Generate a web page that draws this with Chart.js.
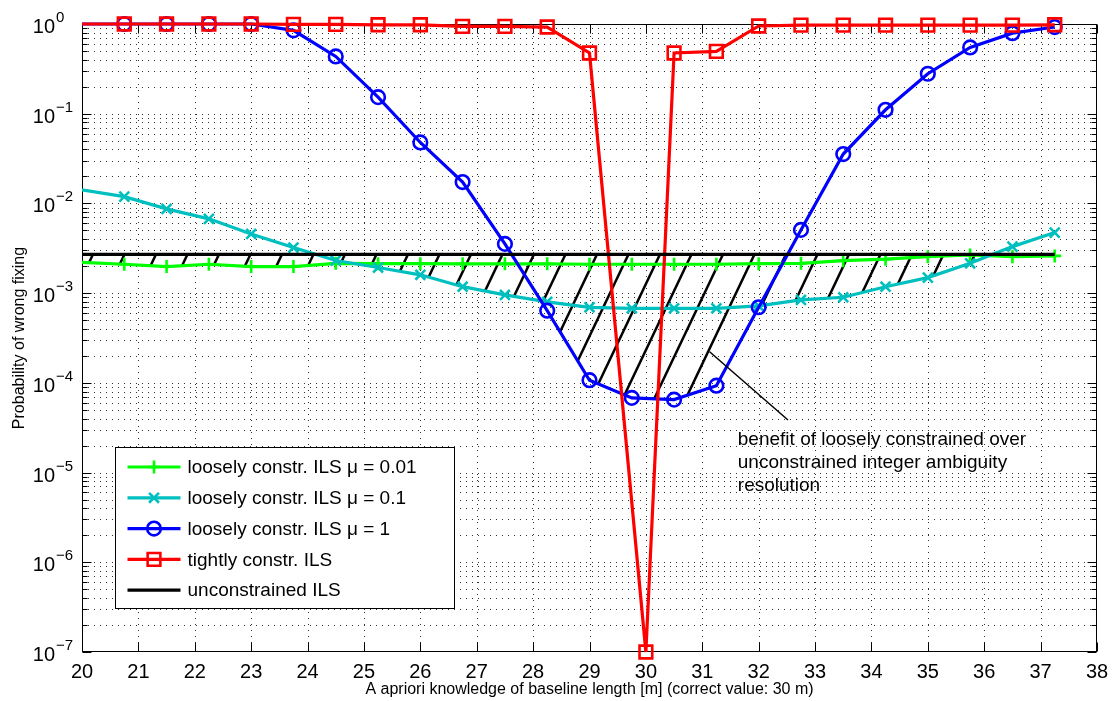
<!DOCTYPE html>
<html>
<head>
<meta charset="utf-8">
<title>Probability of wrong fixing</title>
<script src="https://cdn.jsdelivr.net/npm/chart.js@4.4.1/dist/chart.umd.min.js"></script>
<style>
  html, body { margin: 0; padding: 0; background: #fff; }
  #chart-container { width: 1112px; height: 701px; }
</style>
</head>
<body>
<div id="chart-container"><canvas id="grafica" width="1112" height="701"></canvas></div>
<script>
// a priori baseline length [m] for the loosely constrained runs
// (first sample lies left of the axis, the line is clipped there)
const baseLengths = [19.25, 20.75, 21.5, 22.25, 23, 23.75, 24.5, 25.25, 26, 26.75, 27.5, 28.25,
                     29, 29.75, 30.5, 31.25, 32, 32.75, 33.5, 34.25, 35, 35.75, 36.5, 37.25];
const loose001 = [2.3e-3, 2.1e-3, 1.98e-3, 2.1e-3, 1.98e-3, 1.98e-3, 2.15e-3, 2.13e-3, 2.13e-3, 2.12e-3, 2.12e-3, 2.12e-3,
                  2.1e-3, 2.1e-3, 2.1e-3, 2.1e-3, 2.13e-3, 2.15e-3, 2.3e-3, 2.39e-3, 2.55e-3, 2.67e-3, 2.55e-3, 2.6e-3];
const loose01 = [0.0168, 0.0119, 0.0087, 0.00673, 0.00457, 0.00322, 0.00231, 0.00193, 0.0016, 0.00118, 0.000955, 0.0008,
                 0.000695, 0.000678, 0.000678, 0.000678, 0.00072, 0.00084, 0.0009, 0.00118, 0.00149, 0.00215, 0.0033, 0.00473];
const loose1 = [1, 1, 1, 1, 1, 0.85, 0.435, 0.153, 0.0478, 0.0173, 0.00354, 0.000638,
                0.000107, 0.000068, 0.000065, 0.000093, 0.000696, 0.00507, 0.0355, 0.1106, 0.279, 0.548, 0.79, 0.925];

// tightly constrained run also has the sample at the true length (30 m)
const tightLengths = [19.25, 20.75, 21.5, 22.25, 23, 23.75, 24.5, 25.25, 26, 26.75, 27.5, 28.25,
                      29, 30, 30.5, 31.25, 32, 32.75, 33.5, 34.25, 35, 35.75, 36.5, 37.25];
const tight = [1, 1, 1, 1, 1, 0.99, 0.99, 0.98, 0.98, 0.94, 0.94, 0.925,
               0.475, 1e-7, 0.475, 0.495, 0.95, 0.97, 0.97, 0.97, 0.97, 0.97, 0.97, 0.98];

const unconstrLengths = [19.25, 37.25];
const unconstr = [2.71e-3, 2.71e-3];

const seriesNames = ['loosely constr. ILS \u03bc = 0.01', 'loosely constr. ILS \u03bc = 0.1',
                     'loosely constr. ILS \u03bc = 1', 'tightly constr. ILS', 'unconstrained ILS'];
const yExponents = [0, -1, -2, -3, -4, -5, -6, -7];

const noteLines = ['benefit of loosely constrained over', 'unconstrained integer ambiguity', 'resolution'];
const notePointer = { x: [31.13, 32.52], y: [2.22e-4, 3.85e-5] };
const noteAt = { x: 31.63, y: 2.3e-5 };

const FONT = '"Liberation Sans", Arial, Helvetica, sans-serif';

const toPoints = (xs, ys) => xs.map((x, i) => ({ x: x, y: ys[i] }));

function pixelPath(chart, xs, ys) {
    const sx = chart.scales.x, sy = chart.scales.y;
    return xs.map((x, i) => ({ px: sx.getPixelForValue(x), py: sy.getPixelForValue(ys[i]) }));
}

function yAt(path, px) {
    for (let i = 1; i < path.length; i++) {
        const a = path[i - 1], b = path[i];
        if (px >= a.px && px <= b.px) {
            return a.py + (px - a.px) / (b.px - a.px) * (b.py - a.py);
        }
    }
    return null;
}

// dotted grid, hatched benefit area, axes box with inward ticks
const frame = {
    id: 'frame',
    beforeDatasetsDraw(chart) {
        const { ctx, chartArea: a, scales: { x, y } } = chart;
        ctx.save();

        ctx.strokeStyle = '#333';
        ctx.lineWidth = 1;
        ctx.setLineDash([1, 5]);
        x.ticks.forEach(t => {
            const px = Math.round(x.getPixelForValue(t.value)) + 0.5;
            if (px <= a.left + 1 || px >= a.right - 1) return;
            ctx.beginPath(); ctx.moveTo(px, a.top); ctx.lineTo(px, a.bottom); ctx.stroke();
        });
        y.ticks.forEach(t => {
            const py = Math.round(y.getPixelForValue(t.value)) + 0.5;
            if (py <= a.top + 1 || py >= a.bottom - 1) return;
            ctx.beginPath(); ctx.moveTo(a.left, py); ctx.lineTo(a.right, py); ctx.stroke();
        });
        ctx.setLineDash([]);

        // hatch where any loosely constrained curve is below the unconstrained one
        const ref = pixelPath(chart, unconstrLengths, unconstr);
        const curves = [pixelPath(chart, baseLengths, loose001),
                        pixelPath(chart, baseLengths, loose01),
                        pixelPath(chart, baseLengths, loose1)];
        const x0 = Math.max(a.left, ref[0].px), x1 = Math.min(a.right, ref[ref.length - 1].px);
        const top = [], bottom = [];
        for (let px = x0; px <= x1; px += 1) {
            const yRef = yAt(ref, px);
            let yLow = yRef;
            curves.forEach(c => {
                const v = yAt(c, px);
                if (v !== null && v > yLow) yLow = v;
            });
            top.push([px, yRef]);
            bottom.push([px, yLow]);
        }
        ctx.save();
        ctx.beginPath();
        top.forEach(([px, py], i) => i ? ctx.lineTo(px, py) : ctx.moveTo(px, py));
        for (let i = bottom.length - 1; i >= 0; i--) ctx.lineTo(bottom[i][0], bottom[i][1]);
        ctx.closePath();
        ctx.clip();
        ctx.strokeStyle = '#000';
        ctx.lineWidth = 2.5;
        const slope = 2.1;
        const yc = ref[0].py;
        for (let xc = a.left + 11; xc < a.right + 400; xc += 31.5) {
            ctx.beginPath();
            ctx.moveTo(xc + (yc - a.top) / slope, a.top);
            ctx.lineTo(xc - (a.bottom - yc) / slope, a.bottom);
            ctx.stroke();
        }
        ctx.restore();

        // box and ticks
        ctx.strokeStyle = '#000';
        ctx.lineWidth = 1;
        const L = Math.round(a.left) + 0.5, R = Math.round(a.right) - 0.5;
        const T = Math.round(a.top) + 0.5, B = Math.round(a.bottom) - 0.5;
        ctx.strokeRect(L, T, R - L, B - T);
        ctx.beginPath();
        x.ticks.forEach(t => {
            const px = Math.round(x.getPixelForValue(t.value)) + 0.5;
            ctx.moveTo(px, B); ctx.lineTo(px, B - 9);
            ctx.moveTo(px, T); ctx.lineTo(px, T + 9);
        });
        y.ticks.forEach(t => {
            const py = Math.round(y.getPixelForValue(t.value)) + 0.5;
            const len = t.major ? 9 : 5;
            ctx.moveTo(L, py); ctx.lineTo(L + len, py);
            ctx.moveTo(R, py); ctx.lineTo(R - len, py);
        });
        ctx.stroke();
        ctx.restore();
    },
    afterDraw(chart) {
        // y tick labels as powers of ten
        const { ctx, chartArea: a, scales: { y } } = chart;
        ctx.save();
        ctx.fillStyle = '#000';
        ctx.textBaseline = 'alphabetic';
        yExponents.forEach(e => {
            const py = y.getPixelForValue(Math.pow(10, e));
            const sup = (e < 0 ? '\u2212' : '') + Math.abs(e);
            ctx.font = '20px ' + FONT;
            ctx.textAlign = 'right';
            ctx.fillText('10', a.left - 27, py + 9);
            ctx.font = '15px ' + FONT;
            ctx.textAlign = 'left';
            ctx.fillText(sup, a.left - 26, py - 2);
        });
        ctx.restore();
    }
};

// annotation with pointer, and the boxed legend in the lower left
const overlay = {
    id: 'overlay',
    afterDatasetsDraw(chart) {
        const { ctx, chartArea: a, scales: { x, y } } = chart;
        ctx.save();

        ctx.strokeStyle = '#000';
        ctx.lineWidth = 1.5;
        ctx.beginPath();
        ctx.moveTo(x.getPixelForValue(notePointer.x[0]), y.getPixelForValue(notePointer.y[0]));
        ctx.lineTo(x.getPixelForValue(notePointer.x[1]), y.getPixelForValue(notePointer.y[1]));
        ctx.stroke();

        ctx.fillStyle = '#000';
        ctx.font = '19px ' + FONT;
        ctx.textAlign = 'left';
        ctx.textBaseline = 'middle';
        const nx = x.getPixelForValue(noteAt.x), ny = y.getPixelForValue(noteAt.y);
        noteLines.forEach((s, i) => ctx.fillText(s, nx, ny + i * 23));

        // legend
        const left = Math.round(a.left + 33) + 0.5;
        const bottom = Math.round(a.bottom - 44) + 0.5;
        const w = 339, h = 161;
        ctx.fillStyle = '#fff';
        ctx.fillRect(left, bottom - h, w, h);
        ctx.strokeStyle = '#000';
        ctx.lineWidth = 1;
        ctx.strokeRect(left, bottom - h, w, h);
        const legendOrder = [4, 3, 2, 1, 0];
        legendOrder.forEach((di, i) => {
            const ds = chart.data.datasets[di];
            const ry = bottom - h + 19.5 + i * 30.8;
            ctx.strokeStyle = ds.borderColor;
            ctx.lineWidth = ds.borderWidth;
            ctx.beginPath();
            ctx.moveTo(left + 12, ry);
            ctx.lineTo(left + 65, ry);
            ctx.stroke();
            if (ds.pointRadius > 0) {
                ctx.fillStyle = 'rgba(0,0,0,0)';
                ctx.lineWidth = ds.pointBorderWidth;
                Chart.helpers.drawPoint(ctx, {
                    pointStyle: ds.pointStyle, radius: ds.pointRadius,
                    rotation: 0, borderWidth: ds.pointBorderWidth
                }, left + 38.5, ry);
            }
            ctx.fillStyle = '#000';
            ctx.font = '19px ' + FONT;
            ctx.fillText(ds.label, left + 72, ry + 1);
        });
        ctx.restore();
    }
};

const lineStyle = (color, width) => ({
    borderColor: color, borderWidth: width,
    pointBorderColor: color, pointBackgroundColor: 'rgba(0,0,0,0)',
    pointBorderWidth: 2.6, tension: 0,
    clip: { left: 0, top: 12, right: 12, bottom: 12 }
});

new Chart(document.getElementById('grafica'), {
    type: 'line',
    data: {
        datasets: [
            Object.assign({ label: seriesNames[4], data: toPoints(unconstrLengths, unconstr),
                            pointRadius: 0, order: 1 }, lineStyle('#000000', 3.2)),
            Object.assign({ label: seriesNames[3], data: toPoints(tightLengths, tight),
                            pointStyle: 'rect', pointRadius: 9, order: 2 }, lineStyle('#ff0000', 3.2)),
            Object.assign({ label: seriesNames[2], data: toPoints(baseLengths, loose1),
                            pointStyle: 'circle', pointRadius: 6.8, order: 3 }, lineStyle('#0000ff', 3.2)),
            Object.assign({ label: seriesNames[1], data: toPoints(baseLengths, loose01),
                            pointStyle: 'crossRot', pointRadius: 7, order: 4 }, lineStyle('rgb(0,191,191)', 3.2)),
            Object.assign({ label: seriesNames[0], data: toPoints(baseLengths, loose001),
                            pointStyle: 'cross', pointRadius: 6.5, order: 5 }, lineStyle('#00ff00', 3.2))
        ]
    },
    options: {
        responsive: false,
        animation: false,
        events: [],
        layout: { padding: { top: 24, right: 15, left: 0, bottom: 0 } },
        plugins: { legend: { display: false }, tooltip: { enabled: false } },
        scales: {
            x: {
                type: 'linear', min: 20, max: 38,
                grid: { display: false }, border: { display: false },
                ticks: { stepSize: 1, padding: 0, color: '#000', font: { family: FONT, size: 20 }, maxRotation: 0 },
                title: { display: true, text: 'A apriori knowledge of baseline length [m] (correct value: 30 m)',
                         color: '#000', font: { family: FONT, size: 16 }, padding: { top: 0, bottom: 2 } },
                afterFit(scale) { scale.height = 49; }
            },
            y: {
                type: 'logarithmic', min: 1e-7, max: 1,
                grid: { display: false }, border: { display: false },
                ticks: { display: false },
                title: { display: true, text: 'Probability of wrong fixing',
                         color: '#000', font: { family: FONT, size: 16 }, padding: { top: 10, bottom: 0 } },
                afterBuildTicks(scale) {
                    const ticks = [];
                    for (let e = -7; e <= 0; e++) {
                        for (let m = 1; m <= 9; m++) {
                            const v = m * Math.pow(10, e);
                            if (v <= 1.0000001) ticks.push({ value: v, major: m === 1 });
                        }
                    }
                    scale.ticks = ticks;
                },
                afterFit(scale) { scale.width = 82; }
            }
        }
    },
    plugins: [frame, overlay]
});
</script>
</body>
</html>
